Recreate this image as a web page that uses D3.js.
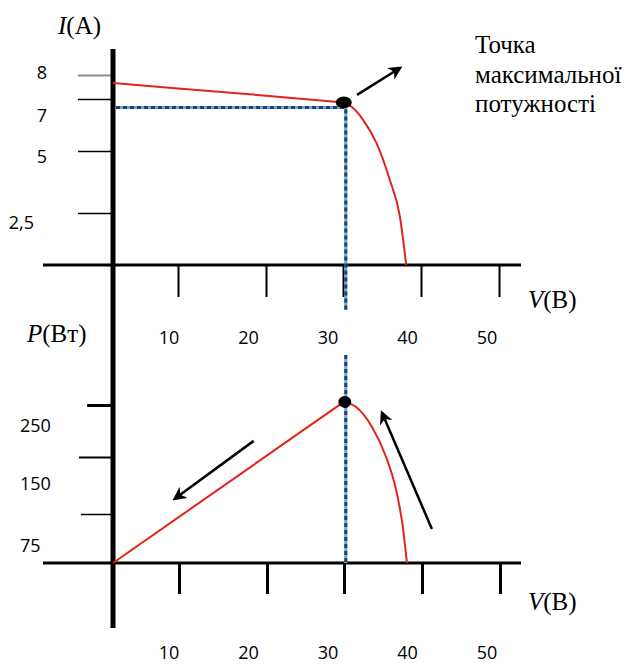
<!DOCTYPE html>
<html>
<head>
<meta charset="utf-8">
<script src="https://cdn.jsdelivr.net/npm/d3@7"></script>
<style>
  html, body { margin: 0; padding: 0; background: #fff; }
  svg { display: block; }
  .serif { font-family: "Liberation Serif", "Times New Roman", serif; font-size: 25px; fill: #000; }
  .tick-label { font-family: "Open Sans", "Liberation Sans", sans-serif; font-size: 18px; fill: #000; }
</style>
</head>
<body>
<svg id="chart" width="636" height="664"></svg>
<script>
// ---------- data ----------
// I–V curve (top panel)
const ivVoltage = [0, 10, 20, 30.1, 31.1, 32.6, 34.3, 36.0, 37.3, 38.1];
const ivCurrent = [7.67, 7.44, 7.14, 6.87, 6.70, 6.19, 5.30, 3.83, 2.32, 0];
const ivMppIndex = 3;

// P–V curve (bottom panel)
const pvVoltage = [0, 30.1, 31.6, 33.7, 35.5, 36.8, 37.6, 38.2];
const pvPower = [0, 256, 247, 208, 151, 107, 61, 0];
const pvMppIndex = 1;

// axis ticks / labels
const voltageTicks = [10, 20, 30, 40, 50];
const currentTicks = [8, 7, 5, 2.5];
const currentTickLabels = ["8", "7", "5", "2,5"];
const powerTicks = [250, 150, 75];
const powerTickLabels = ["250", "150", "75"];

// annotation arrows [from, to] in data units
const arrowTop = [[31.8, 7.17], [37.3, 8.29]];
const arrowBottomLeft = [[18.6, 181], [9.5, 95]];
const arrowBottomRight = [[41.4, 52], [35.0, 235]];

const annotationLines = ["Точка", "максимальної", "потужності"];

// ---------- scales ----------
const x = d3.scaleLinear().domain([0, 10, 20, 30, 40, 50]).range([113, 178, 266, 343, 421, 499]);
const xLabel = d3.scaleLinear().domain([10, 50]).range([169, 487]);
const yTop = d3.scaleLinear().domain([0, 2.5, 5, 7, 8]).range([265, 213, 151, 99, 75]);
const yTopLabel = d3.scaleLinear().domain([2.5, 5, 7, 8]).range([229, 163, 122, 79]);
const yBot = d3.scaleLinear().domain([0, 75, 150, 250]).range([563, 514, 457, 405]);
const yBotLabel = d3.scaleLinear().domain([75, 150, 250]).range([552, 490, 432]);

const svg = d3.select("#chart");

const defs = svg.append("defs");
defs.append("marker")
  .attr("id", "arrow")
  .attr("viewBox", "0 0 10 10")
  .attr("refX", 8).attr("refY", 5)
  .attr("markerWidth", 5.5).attr("markerHeight", 5.5)
  .attr("markerUnits", "strokeWidth")
  .attr("orient", "auto")
  .append("path").attr("d", "M0,0 L10,5 L0,10 L3,5 Z").attr("fill", "#000");

const RED = "#e2231a";
const NAVY = "#1f3f6e";
const LIGHTBLUE = "#6aa6dc";

// ---------- axes ----------
const xAxisTop = d3.axisBottom(x).tickValues(voltageTicks).tickSize(32).tickFormat("");
const gxTop = svg.append("g").attr("transform", `translate(0,${yTop(0)})`).call(xAxisTop);
gxTop.select(".domain").remove();
gxTop.selectAll(".tick line").attr("stroke", "#000").attr("stroke-width", 2);

const xAxisBot = d3.axisBottom(x).tickValues(voltageTicks).tickSize(31).tickFormat("");
const gxBot = svg.append("g").attr("transform", `translate(1,${yBot(0)})`).call(xAxisBot);
gxBot.select(".domain").remove();
gxBot.selectAll(".tick line").attr("stroke", "#000").attr("stroke-width", 3);

const yAxisTop = d3.axisLeft(yTop).tickValues(currentTicks).tickSize(35).tickFormat("");
const gyTop = svg.append("g").attr("transform", `translate(${x(0)},0)`).call(yAxisTop);
gyTop.select(".domain").remove();
gyTop.selectAll(".tick line")
  .attr("stroke", (d) => d === 8 ? "#8a8a8a" : "#000")
  .attr("stroke-width", (d) => d === 8 ? 2 : 1.5);

const yAxisBot = d3.axisLeft(yBot).tickValues(powerTicks).tickSizeInner(30).tickSizeOuter(0).tickFormat("");
const gyBot = svg.append("g").attr("transform", `translate(${x(0)},0)`).call(yAxisBot);
gyBot.select(".domain").remove();
gyBot.selectAll(".tick line")
  .attr("x2", (d) => d === 250 ? -26 : d === 150 ? -34 : -32)
  .attr("stroke", "#000")
  .attr("stroke-width", (d) => d === 250 ? 3 : d === 150 ? 2 : 1.5);

// horizontal axis lines
svg.append("line").attr("x1", 43).attr("x2", 521).attr("y1", yTop(0)).attr("y2", yTop(0))
  .attr("stroke", "#000").attr("stroke-width", 3);
svg.append("line").attr("x1", 43).attr("x2", 521).attr("y1", yBot(0)).attr("y2", yBot(0))
  .attr("stroke", "#000").attr("stroke-width", 3);

// vertical axis (shared)
svg.append("line").attr("x1", x(0)).attr("x2", x(0)).attr("y1", 49).attr("y2", 628)
  .attr("stroke", "#000").attr("stroke-width", 5);

// ---------- tick labels ----------
svg.append("g").selectAll("text").data(voltageTicks).join("text")
  .attr("class", "tick-label").attr("text-anchor", "middle")
  .attr("x", (d) => xLabel(d)).attr("y", 344).text((d) => d);
svg.append("g").selectAll("text").data(voltageTicks).join("text")
  .attr("class", "tick-label").attr("text-anchor", "middle")
  .attr("x", (d) => xLabel(d)).attr("y", 659).text((d) => d);

svg.append("g").selectAll("text").data(currentTicks).join("text")
  .attr("class", "tick-label").attr("text-anchor", "end")
  .attr("x", (d, i) => currentTickLabels[i].length > 1 ? 34 : 47)
  .attr("y", (d) => yTopLabel(d)).text((d, i) => currentTickLabels[i]);

svg.append("g").selectAll("text").data(powerTicks).join("text")
  .attr("class", "tick-label").attr("text-anchor", "start")
  .attr("x", 20).attr("y", (d) => yBotLabel(d)).text((d, i) => powerTickLabels[i]);

// ---------- axis titles ----------
function axisTitle(xp, yp, italic, rest) {
  const t = svg.append("text").attr("class", "serif").attr("x", xp).attr("y", yp);
  t.append("tspan").attr("font-style", "italic").text(italic);
  t.append("tspan").text(rest);
}
axisTitle(58, 34, "I", "(A)");
axisTitle(528, 308, "V", "(B)");
axisTitle(27, 342, "P", "(Вт)");
axisTitle(528, 610, "V", "(B)");

svg.append("g").selectAll("text").data(annotationLines).join("text")
  .attr("class", "serif").attr("x", 475).attr("y", (d, i) => 53 + i * 29.5).text((d) => d);

// ---------- dashed guide lines ----------
function dashed(x1, y1, x2, y2) {
  svg.append("line").attr("x1", x1).attr("y1", y1).attr("x2", x2).attr("y2", y2)
    .attr("stroke", LIGHTBLUE).attr("stroke-width", 3);
  svg.append("line").attr("x1", x1).attr("y1", y1).attr("x2", x2).attr("y2", y2)
    .attr("stroke", NAVY).attr("stroke-width", 3).attr("stroke-dasharray", "4,3");
}
const vMpp = ivVoltage[ivMppIndex];
const iMpp = ivCurrent[ivMppIndex];
const pMpp = pvPower[pvMppIndex];
dashed(x(0) + 3, yTop(iMpp) + 5, x(vMpp), yTop(iMpp) + 5);
dashed(x(vMpp) + 2, yTop(iMpp), x(vMpp) + 2, yTop(0) + 45);
dashed(x(vMpp) + 2, yBot(0) - 208, x(vMpp) + 2, yBot(0));

// ---------- curves ----------
const ivPts = ivVoltage.map((v, i) => [x(v), yTop(ivCurrent[i])]);
const pvPts = pvVoltage.map((v, i) => [x(v), yBot(pvPower[i])]);

const lin = d3.line().curve(d3.curveLinear);
const smooth = d3.line().curve(d3.curveMonotoneX);

svg.append("path").attr("d", lin(ivPts.slice(0, ivMppIndex + 1)))
  .attr("fill", "none").attr("stroke", RED).attr("stroke-width", 2);
svg.append("path").attr("d", smooth(ivPts.slice(ivMppIndex)))
  .attr("fill", "none").attr("stroke", RED).attr("stroke-width", 2);

svg.append("path").attr("d", lin(pvPts.slice(0, pvMppIndex + 1)))
  .attr("fill", "none").attr("stroke", RED).attr("stroke-width", 2);
svg.append("path").attr("d", smooth(pvPts.slice(pvMppIndex)))
  .attr("fill", "none").attr("stroke", RED).attr("stroke-width", 2);

// MPP dots
svg.append("ellipse").attr("cx", x(vMpp)).attr("cy", yTop(iMpp)).attr("rx", 8).attr("ry", 6).attr("fill", "#000");
svg.append("ellipse").attr("cx", x(pvVoltage[pvMppIndex]) + 1).attr("cy", yBot(pMpp)).attr("rx", 6.5).attr("ry", 6)
  .attr("fill", "#000");

// ---------- arrows ----------
function arrow(a, yScale) {
  svg.append("line")
    .attr("x1", x(a[0][0])).attr("y1", yScale(a[0][1]))
    .attr("x2", x(a[1][0])).attr("y2", yScale(a[1][1]))
    .attr("stroke", "#000").attr("stroke-width", 2.5)
    .attr("marker-end", "url(#arrow)");
}
arrow(arrowTop, yTop);
arrow(arrowBottomLeft, yBot);
arrow(arrowBottomRight, yBot);
</script>
</body>
</html>
